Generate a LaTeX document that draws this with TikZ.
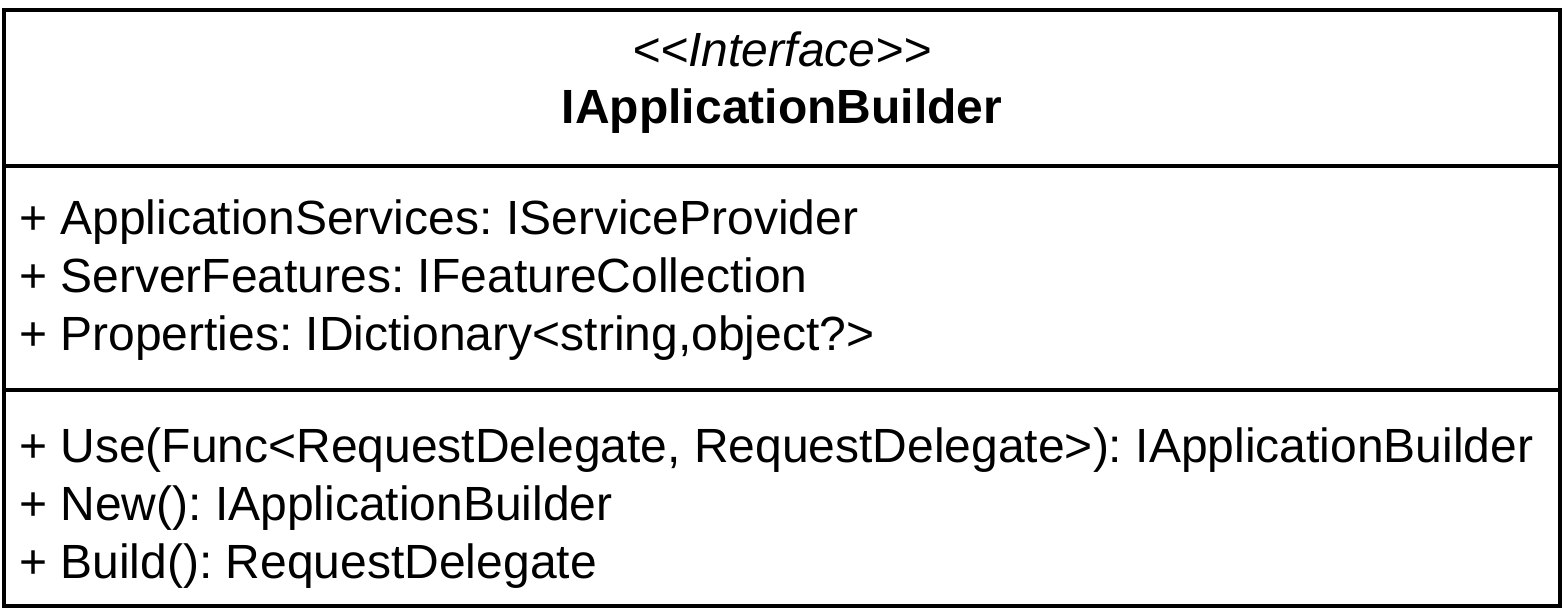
\documentclass[tikz,border=0pt]{standalone}
\usepackage{fontspec}
\setmainfont{Liberation Sans}[Ligatures=TeXOff]
\begin{document}
\frenchspacing
\begin{tikzpicture}[x=1pt,y=-1pt,
  boxline/.style={line width=4pt,draw=black},
  member/.style={anchor=base west,inner sep=0pt,font=\fontsize{48}{56}\selectfont},
  titletext/.style={anchor=base,inner sep=0pt,font=\fontsize{48}{56}\selectfont}]
\useasboundingbox (0,0) rectangle (1567,613);
\coordinate (tl) at (4,10);
\coordinate (br) at (1560,606);
\draw[boxline] (tl) rectangle (br);
\coordinate (d1l) at (4,166);
\coordinate (d1r) at (1560,166);
\coordinate (d2l) at (4,390);
\coordinate (d2r) at (1560,390);
\draw[boxline] (d1l) -- (d1r);
\draw[boxline] (d2l) -- (d2r);
\node[titletext,font=\fontsize{48}{56}\selectfont\itshape] (stereo) at (782,66) {<{}<Interface>{}>};
\node[titletext,font=\fontsize{48}{56}\selectfont\bfseries] (name) at (782,123) {IApplicationBuilder};
\node[member] (a1) at (19,234) {+ ApplicationServices: IServiceProvider};
\node[member] (a2) at (19,292) {+ ServerFeatures: IFeatureCollection};
\node[member] (a3) at (19,350) {+ Properties: IDictionary<string,object?>};
\node[member] (m1) at (19,462) {+ Use(Func<RequestDelegate, RequestDelegate>): IApplicationBuilder};
\node[member] (m2) at (19,520) {+ New(): IApplicationBuilder};
\node[member] (m3) at (19,578) {+ Build(): RequestDelegate};
\end{tikzpicture}
\end{document}
